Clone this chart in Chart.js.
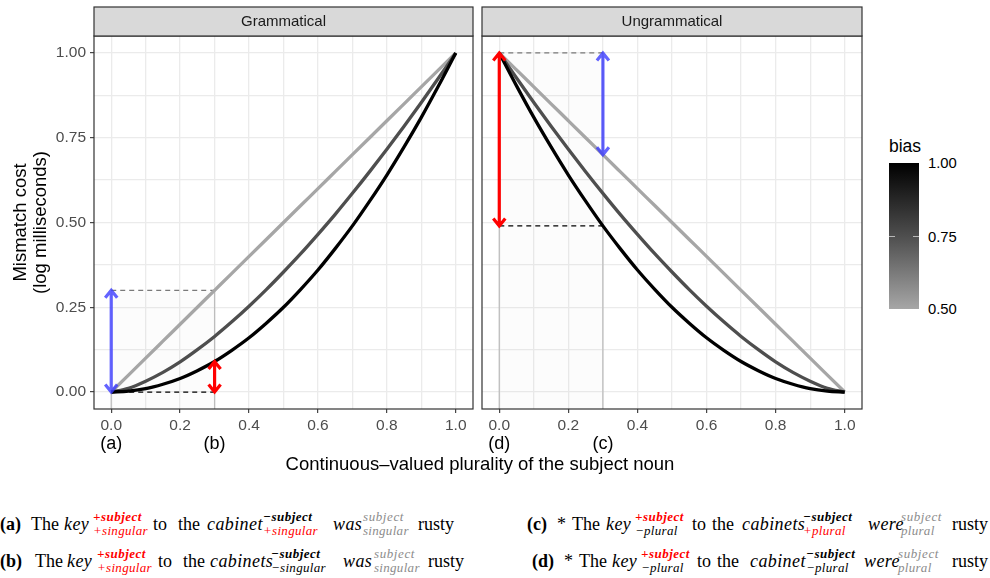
<!DOCTYPE html>
<html>
<head>
<meta charset="utf-8">
<script src="https://cdn.jsdelivr.net/npm/chart.js"></script>
<style>
  body { margin: 0; background: #fff; }
  #wrap { position: relative; width: 990px; height: 578px; overflow: hidden;
          font-family: "Liberation Sans", Arial, sans-serif; }
  #gram { position: absolute; left: 0; top: 0; }
  #ungram { position: absolute; left: 480px; top: 0; }
  .xtitle { position: absolute; left: 0; width: 960px; top: 455px; text-align: center;
            font-size: 18.5px; line-height: 1; color: #000; white-space: nowrap; }
  .btitle { position: absolute; left: 889px; top: 138px; font-size: 17.5px; line-height: 1; }
  .bar { position: absolute; left: 889px; top: 163px; width: 30px; height: 146px;
         background: linear-gradient(to bottom, #000 0%, #4e4e4e 50%, #a6a6a6 100%); }
  .bmark { position: absolute; height: 1px; width: 6px; background: rgba(255,255,255,0.6); }
  .blab { position: absolute; left: 928px; font-size: 14.8px; line-height: 1; color: #000; }
</style>
</head>
<body>
<div id="wrap">
  <canvas id="gram" width="480" height="480"></canvas>
  <canvas id="ungram" width="390" height="480"></canvas>
  <div class="xtitle">Continuous–valued plurality of the subject noun</div>
  <div class="btitle">bias</div>
  <div class="bar"></div>
  <div class="bmark" style="left:889px;top:236px"></div>
  <div class="bmark" style="left:913px;top:236px"></div>
  <div class="blab" style="top:156px">1.00</div>
  <div class="blab" style="top:230px">0.75</div>
  <div class="blab" style="top:302px">0.50</div>
</div>
<script>
// plurality values along x
const xVals = [0, 0.05, 0.1, 0.15, 0.2, 0.25, 0.3, 0.35, 0.4, 0.45, 0.5,
               0.55, 0.6, 0.65, 0.7, 0.75, 0.8, 0.85, 0.9, 0.95, 1];

// mismatch cost, grammatical panel, one array per bias level
const gramBias050 = [0, 0.05, 0.1, 0.15, 0.2, 0.25, 0.3, 0.35, 0.4, 0.45, 0.5,
                     0.55, 0.6, 0.65, 0.7, 0.75, 0.8, 0.85, 0.9, 0.95, 1];
const gramBias075 = [0, 0.011, 0.032, 0.058, 0.089, 0.125, 0.164, 0.207, 0.253, 0.302, 0.354,
                     0.408, 0.465, 0.524, 0.586, 0.65, 0.716, 0.784, 0.854, 0.926, 1];
const gramBias100 = [0, 0.003, 0.01, 0.023, 0.04, 0.063, 0.09, 0.123, 0.16, 0.203, 0.25,
                     0.303, 0.36, 0.423, 0.49, 0.563, 0.64, 0.723, 0.81, 0.903, 1];

// mismatch cost, ungrammatical panel
const ungramBias050 = [1, 0.95, 0.9, 0.85, 0.8, 0.75, 0.7, 0.65, 0.6, 0.55, 0.5,
                       0.45, 0.4, 0.35, 0.3, 0.25, 0.2, 0.15, 0.1, 0.05, 0];
const ungramBias075 = [1, 0.926, 0.854, 0.784, 0.716, 0.65, 0.586, 0.524, 0.465, 0.408, 0.354,
                       0.302, 0.253, 0.207, 0.164, 0.125, 0.089, 0.058, 0.032, 0.011, 0];
const ungramBias100 = [1, 0.903, 0.81, 0.723, 0.64, 0.563, 0.49, 0.423, 0.36, 0.303, 0.25,
                       0.203, 0.16, 0.123, 0.09, 0.063, 0.04, 0.023, 0.01, 0.003, 0];

const biasLevels = ['0.50', '0.75', '1.00'];
const biasColors = ['#a6a6a6', '#4e4e4e', '#000000'];

// axis ticks (majors get labels, minors only grid)
const xTicks = [0, 0.1, 0.2, 0.3, 0.4, 0.5, 0.6, 0.7, 0.8, 0.9, 1];
const yTicks = [0, 0.125, 0.25, 0.375, 0.5, 0.625, 0.75, 0.875, 1];
const xMajor = [0, 0.2, 0.4, 0.6, 0.8, 1];
const yMajor = [0, 0.25, 0.5, 0.75, 1];

// sentence markers under the x axis
const markX = [0, 0.3];
const gramMarks = ['(a)', '(b)'];
const ungramMarks = ['(d)', '(c)'];

// annotations: [x, yFrom, yTo]
const gramArrowsBlue = [[0, 0, 0.3]];
const gramArrowsRed = [[0.3, 0, 0.09]];
const ungramArrowsBlue = [[0.3, 0.7, 1]];
const ungramArrowsRed = [[0, 0.49, 1]];
// dashed guides: [y, x0, x1]
const gramDashGray = [[0.3, 0, 0.3]];
const gramDashBlack = [[0, 0, 0.3]];
const ungramDashGray = [[1, 0, 0.3]];
const ungramDashBlack = [[0.49, 0, 0.3]];
// vertical guides: [x, top]
const gramGuides = [[0, 0], [0.3, 0.3]];
const ungramGuides = [[0, 1], [0.3, 1]];
const gramShadeTop = 0.3;
const ungramShadeTop = 1;

const near = (v, list) => list.some(m => Math.abs(m - v) < 1e-6);

function drawArrow(ctx, xs, ys, a, color) {
  const x = xs.getPixelForValue(a[0]);
  const y0 = ys.getPixelForValue(a[1]);
  const y1 = ys.getPixelForValue(a[2]);
  const hw = 6, hl = 7.5;
  ctx.save();
  ctx.strokeStyle = color;
  ctx.lineWidth = 3.2;
  ctx.lineJoin = 'miter';
  ctx.beginPath();
  ctx.moveTo(x, y0); ctx.lineTo(x, y1);
  ctx.moveTo(x - hw, y0 - hl); ctx.lineTo(x, y0); ctx.lineTo(x + hw, y0 - hl);
  ctx.moveTo(x - hw, y1 + hl); ctx.lineTo(x, y1); ctx.lineTo(x + hw, y1 + hl);
  ctx.stroke();
  ctx.restore();
}

const panelPlugin = {
  id: 'panel',
  beforeDatasetsDraw(chart, args, o) {
    const ctx = chart.ctx, xs = chart.scales.x, ys = chart.scales.y;
    const bottom = ys.getPixelForValue(ys.min);
    // faint shaded region
    ctx.save();
    ctx.fillStyle = 'rgba(0,0,0,0.01)';
    const sx0 = xs.getPixelForValue(0), sx1 = xs.getPixelForValue(0.3);
    const st = ys.getPixelForValue(o.shadeTop);
    ctx.fillRect(sx0, st, sx1 - sx0, bottom - st);
    // vertical guides
    ctx.strokeStyle = '#bdbdbd';
    ctx.lineWidth = 1.3;
    o.guides.forEach(g => {
      const x = xs.getPixelForValue(g[0]);
      ctx.beginPath();
      ctx.moveTo(x, bottom); ctx.lineTo(x, ys.getPixelForValue(g[1]));
      ctx.stroke();
    });
    // dashed guides
    ctx.setLineDash([5, 4]);
    [[o.dashGray, '#7a7a7a'], [o.dashBlack, '#000']].forEach(([list, col]) => {
      ctx.strokeStyle = col;
      list.forEach(d => {
        const y = ys.getPixelForValue(d[0]);
        ctx.beginPath();
        ctx.moveTo(xs.getPixelForValue(d[1]), y);
        ctx.lineTo(xs.getPixelForValue(d[2]), y);
        ctx.stroke();
      });
    });
    ctx.restore();
  },
  afterDatasetsDraw(chart, args, o) {
    const ctx = chart.ctx, xs = chart.scales.x, ys = chart.scales.y;
    o.arrowsRed.forEach(a => drawArrow(ctx, xs, ys, a, '#ff0000'));
    o.arrowsBlue.forEach(a => drawArrow(ctx, xs, ys, a, 'rgba(60,60,255,0.8)'));
  },
  afterDraw(chart, args, o) {
    const ctx = chart.ctx, a = chart.chartArea, xs = chart.scales.x;
    ctx.save();
    // panel border
    ctx.strokeStyle = '#333';
    ctx.lineWidth = 1.2;
    ctx.strokeRect(a.left, a.top, a.right - a.left, a.bottom - a.top);
    // facet strip
    ctx.fillStyle = '#d9d9d9';
    ctx.fillRect(a.left, 7, a.right - a.left, a.top - 7);
    ctx.strokeRect(a.left, 7, a.right - a.left, a.top - 7);
    ctx.fillStyle = '#1a1a1a';
    ctx.font = '15px "Liberation Sans", Arial, sans-serif';
    ctx.textAlign = 'center';
    ctx.textBaseline = 'middle';
    ctx.fillText(o.title, (a.left + a.right) / 2, 22);
    // sentence markers
    ctx.fillStyle = '#000';
    ctx.font = '18px "Liberation Sans", Arial, sans-serif';
    ctx.textBaseline = 'alphabetic';
    o.marks.forEach((m, i) => ctx.fillText(m, xs.getPixelForValue(markX[i]), a.bottom + 40));
    // y axis title (left panel only)
    if (o.yTitle) {
      ctx.font = '18.5px "Liberation Sans", Arial, sans-serif';
      const cy = (a.top + a.bottom) / 2;
      [[26, o.yTitle[0]], [46, o.yTitle[1]]].forEach(([bx, t]) => {
        ctx.save();
        ctx.translate(bx, cy);
        ctx.rotate(-Math.PI / 2);
        ctx.fillText(t, 0, 0);
        ctx.restore();
      });
    }
    ctx.restore();
  }
};

function makeSets(series) {
  // black drawn on top
  return series.map((arr, i) => ({
    label: 'bias ' + biasLevels[i],
    data: xVals.map((x, j) => ({ x: x, y: arr[j] })),
    borderColor: biasColors[i],
    borderWidth: 3.3,
    pointRadius: 0,
    fill: false,
    cubicInterpolationMode: 'monotone',
    order: series.length - i
  }));
}

function makePanel(id, series, cfg, isLeft) {
  return new Chart(document.getElementById(id), {
    type: 'line',
    data: { datasets: makeSets(series) },
    plugins: [panelPlugin],
    options: {
      responsive: false,
      animation: false,
      devicePixelRatio: 1,
      layout: { padding: { left: isLeft ? 0 : 2, right: isLeft ? 7 : 8, top: 36, bottom: 0 } },
      plugins: { legend: { display: false }, tooltip: { enabled: false }, panel: cfg },
      scales: {
        x: {
          type: 'linear', min: -0.05, max: 1.05,
          afterBuildTicks: s => { s.ticks = xTicks.map(v => ({ value: v })); },
          afterFit: s => { s.height = 71; },
          border: { display: false },
          grid: {
            color: '#ebebeb', lineWidth: 1.3, tickLength: 4, tickWidth: 1.1,
            tickColor: c => (c.tick && near(c.tick.value, xMajor)) ? '#333' : 'rgba(0,0,0,0)'
          },
          ticks: {
            autoSkip: false, maxRotation: 0, padding: 3, color: '#4d4d4d',
            font: { size: 15.5 },
            callback: v => near(v, xMajor) ? v.toFixed(1) : ''
          }
        },
        y: {
          type: 'linear', min: -0.05, max: 1.05,
          afterBuildTicks: s => { s.ticks = yTicks.map(v => ({ value: v })); },
          afterFit: s => { s.width = isLeft ? 94 : 0; },
          border: { display: false },
          grid: {
            color: '#ebebeb', lineWidth: 1.3, tickLength: 4, tickWidth: 1.1,
            drawTicks: isLeft,
            tickColor: c => (c.tick && near(c.tick.value, yMajor)) ? '#333' : 'rgba(0,0,0,0)'
          },
          ticks: {
            display: isLeft, autoSkip: false, padding: 4, color: '#4d4d4d',
            font: { size: 15.5 },
            callback: v => near(v, yMajor) ? v.toFixed(2) : ''
          }
        }
      }
    }
  });
}

Chart.defaults.font.family = '"Liberation Sans", Arial, sans-serif';

makePanel('gram', [gramBias050, gramBias075, gramBias100], {
  title: 'Grammatical', marks: gramMarks, shadeTop: gramShadeTop, guides: gramGuides,
  dashGray: gramDashGray, dashBlack: gramDashBlack,
  arrowsBlue: gramArrowsBlue, arrowsRed: gramArrowsRed,
  yTitle: ['Mismatch cost', '(log milliseconds)']
}, true);

makePanel('ungram', [ungramBias050, ungramBias075, ungramBias100], {
  title: 'Ungrammatical', marks: ungramMarks, shadeTop: ungramShadeTop, guides: ungramGuides,
  dashGray: ungramDashGray, dashBlack: ungramDashBlack,
  arrowsBlue: ungramArrowsBlue, arrowsRed: ungramArrowsRed,
  yTitle: null
}, false);

// example sentences below the chart
const RED = '#ff0000', GRAY = '#8c8c8c', BLK = '#000';
const wrap = document.getElementById('wrap');

function addSpan(text, x, baseline, size, style, weight, color, spacing) {
  const s = document.createElement('span');
  s.textContent = text;
  s.style.cssText = 'position:absolute;white-space:nowrap;left:' + x + 'px;top:' +
    (baseline - 0.8375 * size) + 'px;font:' + style + ' ' + weight + ' ' + size +
    'px/1 "Liberation Serif", serif;color:' + color + ';letter-spacing:' + spacing + 'px';
  wrap.appendChild(s);
}

function addLine(base, tokens) {
  tokens.forEach(t => {
    const kind = t[0], x = t[1];
    if (kind === 's') {
      const bold = t[4] !== GRAY;
      addSpan(t[2], x, base - 9, 13, 'italic', bold ? 'bold' : 'normal', t[4], bold ? 0.5 : 0.6);
      addSpan(t[3], x, base + 5, 13, 'italic', 'normal', t[5], 0.3);
    } else {
      addSpan(t[2], x, base, 18, kind === 'i' ? 'italic' : 'normal',
        kind === 'b' ? 'bold' : 'normal', BLK, kind === 'i' ? 0.4 : 0);
    }
  });
}

addLine(530, [['b', 0, '(a)'], ['t', 31, 'The'], ['i', 64, 'key'],
  ['s', 93, '+subject', '+singular', RED, RED], ['t', 153, 'to'], ['t', 178, 'the'],
  ['i', 207, 'cabinet'], ['s', 263, '\u2212subject', '+singular', BLK, RED],
  ['i', 333, 'was'], ['s', 363, 'subject', 'singular', GRAY, GRAY], ['t', 418, 'rusty']]);

addLine(567, [['b', 0, '(b)'], ['t', 35, 'The'], ['i', 67, 'key'],
  ['s', 97, '+subject', '+singular', RED, RED], ['t', 158, 'to'], ['t', 183, 'the'],
  ['i', 210, 'cabinets'], ['s', 271, '\u2212subject', '\u2212singular', BLK, BLK],
  ['i', 343, 'was'], ['s', 374, 'subject', 'singular', GRAY, GRAY], ['t', 428, 'rusty']]);

addLine(530, [['b', 527, '(c)'], ['t', 557, '*'], ['t', 572, 'The'], ['i', 606, 'key'],
  ['s', 635, '+subject', '\u2212plural', RED, BLK], ['t', 692, 'to'], ['t', 712, 'the'],
  ['i', 742, 'cabinets'], ['s', 803, '\u2212subject', '+plural', BLK, RED],
  ['i', 868, 'were'], ['s', 901, 'subject', 'plural', GRAY, GRAY], ['t', 952, 'rusty']]);

addLine(567, [['b', 532, '(d)'], ['t', 564, '*'], ['t', 579, 'The'], ['i', 612, 'key'],
  ['s', 641, '+subject', '\u2212plural', RED, BLK], ['t', 697, 'to'], ['t', 717, 'the'],
  ['i', 750, 'cabinet'], ['s', 806, '\u2212subject', '\u2212plural', BLK, BLK],
  ['i', 864, 'were'], ['s', 898, 'subject', 'plural', GRAY, GRAY], ['t', 952, 'rusty']]);
</script>
</body>
</html>
